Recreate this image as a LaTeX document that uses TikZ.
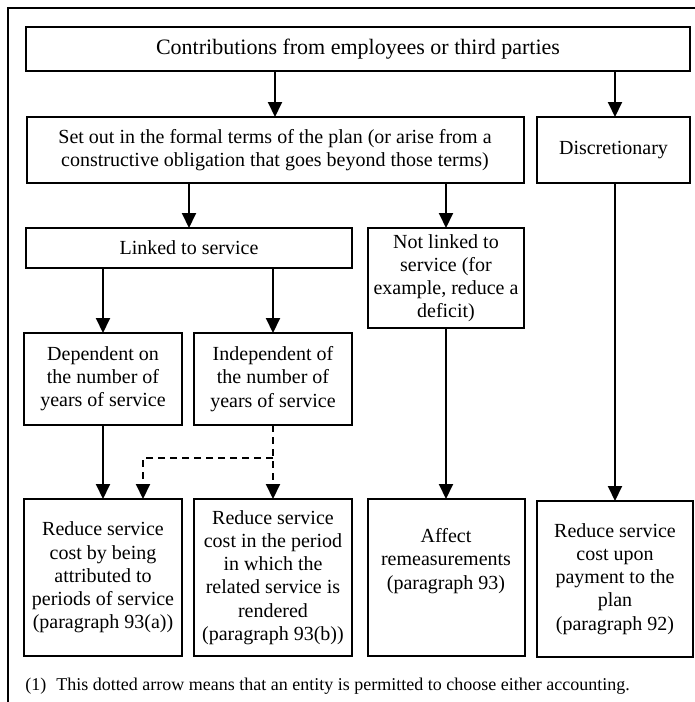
\documentclass[tikz,border=0pt]{standalone}
\usepackage{fontspec}
\setmainfont{Liberation Serif}
\usetikzlibrary{positioning}
\usetikzlibrary{arrows.meta}

\begin{document}
\begin{tikzpicture}[x=0.5pt, y=-0.5pt,
            box/.style={draw, line width=1pt, align=center, inner sep=0pt, outer sep=0pt, minimum width=79pt, font=\fontsize{10}{11.6}\selectfont},
            arr/.style={-{Triangle[width=7pt,length=7.5pt]}, line width=1pt},
            dasharr/.style={arr, dash pattern=on 3.5pt off 2.5pt}]
            \useasboundingbox (0,0) rectangle (695,702);
            \draw[line width=1pt] (8,702) -- (8,8) -- (695,8);

            \node[box, minimum width=332pt, minimum height=22pt, font=\fontsize{11}{13}\selectfont] (contrib) at (358,49) {Contributions from employees or third parties};
            \node[box, minimum width=248.5pt, minimum height=33pt] (setout) at (275,150) {Set out in the formal terms of the plan (or arise from a\\constructive obligation that goes beyond those terms)};
            \node[box, minimum width=76.5pt, minimum height=33pt] (discr) at (613.5,150) {Discretionary};

            \node[box, minimum width=163pt, minimum height=20pt] (linked) at (189,248) {Linked to service};
            \node[box, minimum width=78pt, minimum height=50pt] (notlinked) at (446,278) {Not linked to\\service (for\\example, reduce a\\deficit)};

            \node[box, minimum height=46pt] (dep) at (103,379) {Dependent on\\the number of\\years of service};
            \node[box, minimum height=46pt, right=6pt of dep] (indep) {Independent of\\the number of\\years of service};

            \node[box, minimum height=78.5pt] (reda) at (103,577.5) {Reduce service\\cost by being\\attributed to\\periods of service\\(paragraph 93(a))};
            \node[box, minimum height=78.5pt, right=6pt of reda] (redb) {Reduce service\\cost in the period\\in which the\\related service is\\rendered\\(paragraph 93(b))};
            \node[box, minimum width=78.5pt, minimum height=78.5pt] (affect) at (446,577.5) {Affect\\remeasurements\\(paragraph 93)\\[7pt]\mbox{}};
            \node[box, minimum width=78pt, minimum height=78pt] (redd) at (615,579) {Reduce service\\cost upon\\payment to the\\plan\\(paragraph 92)};

            \draw[arr] (contrib.south -| setout.north) -- (setout.north);
            \draw[arr] (contrib.south -| redd.north) -- (discr.north -| redd.north);
            \draw[arr] (setout.south -| linked.north) -- (linked.north);
            \draw[arr] (setout.south -| notlinked.north) -- (notlinked.north);
            \draw[arr] (linked.south -| dep.north) -- (dep.north);
            \draw[arr] (linked.south -| indep.north) -- (indep.north);
            \draw[arr] (dep.south) -- (reda.north);
            \draw[arr] (notlinked.south) -- (affect.north);
            \draw[arr] (discr.south -| redd.north) -- (redd.north);

            % dotted arrow (1)
            \coordinate (split) at ([yshift=-16.5pt]indep.south);
            \draw[dasharr] (indep.south) -- (redb.north);
            \draw[dasharr] (split) -| ([xshift=20pt]reda.north);

            \node[anchor=west, inner sep=0pt, font=\fontsize{9}{11}\selectfont] (note) at (25,686) {(1)\hspace{5pt}This dotted arrow means that an entity is permitted to choose either accounting.};
        \end{tikzpicture}
\end{document}
